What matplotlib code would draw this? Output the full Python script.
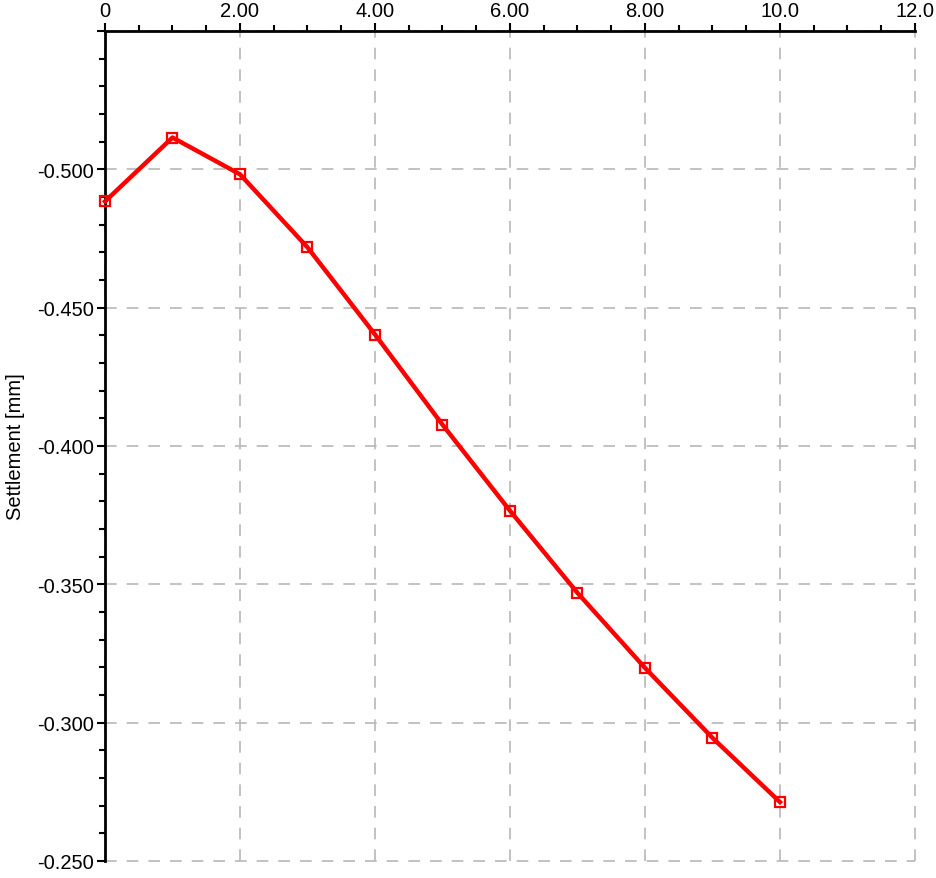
import matplotlib
matplotlib.use('Agg')
from matplotlib import pyplot as plt
from matplotlib.ticker import MultipleLocator, FuncFormatter

plt.rcParams['font.family'] = ['Liberation Sans', 'DejaVu Sans']

x_vals = [0, 1, 2, 3, 4, 5, 6, 7, 8, 9, 10]
settlement = [-0.4884, -0.5115, -0.4982, -0.4718, -0.4403, -0.4077,
              -0.3766, -0.3469, -0.3198, -0.2945, -0.2713]

def fmt_x(v, pos):
    if abs(v) < 1e-9:
        return '0'
    if abs(v) >= 10:
        return '%.1f' % v
    return '%.2f' % v

def fmt_y(v, pos):
    # top tick (-0.550) carries no label in the original
    if v < -0.545:
        return ''
    return '%.3f' % v

fig = plt.figure(figsize=(9.37, 8.79), dpi=100)
ax = fig.add_axes([105/937, 1 - 862/879, (915-105)/937, (862-32)/879])

ax.plot(x_vals, settlement, color='#ff0000', linewidth=3.2, marker='s',
        markersize=7.8, markerfacecolor='none', markeredgecolor='#ff0000',
        markeredgewidth=1.6, zorder=3, clip_on=False)

ax.set_xlim(0, 12)
ax.set_ylim(-0.25, -0.55)

ax.xaxis.set_major_locator(MultipleLocator(2))
ax.xaxis.set_minor_locator(MultipleLocator(0.5))
ax.yaxis.set_major_locator(MultipleLocator(0.05))
ax.yaxis.set_minor_locator(MultipleLocator(0.01))
ax.xaxis.set_major_formatter(FuncFormatter(fmt_x))
ax.yaxis.set_major_formatter(FuncFormatter(fmt_y))

ax.xaxis.tick_top()
ax.tick_params(axis='both', which='major', direction='out', length=6, width=1.5,
               labelsize=14.5, pad=2, colors='black')
ax.tick_params(axis='both', which='minor', direction='out', length=4, width=1.5)

ax.spines['right'].set_visible(False)
ax.spines['bottom'].set_visible(False)
ax.spines['top'].set_linewidth(2)
ax.spines['left'].set_linewidth(2)

ax.grid(True, which='major', color='#b8b8b8', linestyle=(0, (7, 6)), linewidth=1.2)
ax.set_axisbelow(True)
for gl in ax.get_xgridlines() + ax.get_ygridlines():
    gl.set_clip_on(False)

ax.set_ylabel('Settlement [mm]', fontsize=14.5, labelpad=9)

fig.savefig('out.png', dpi=100)
